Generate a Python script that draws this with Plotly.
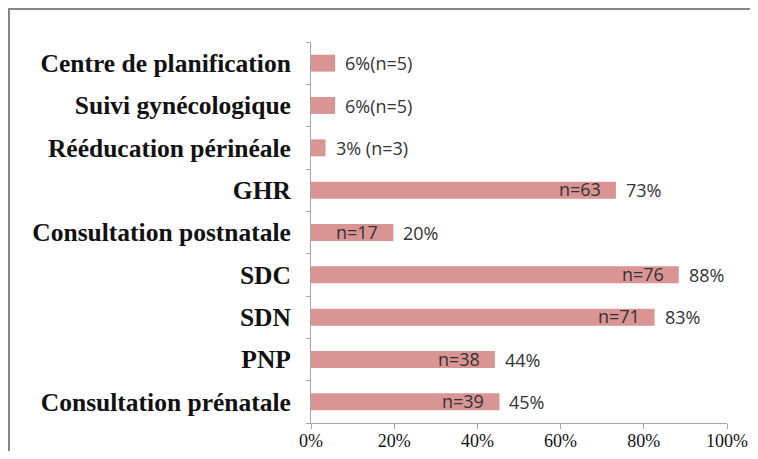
import plotly.graph_objects as go

categories = ["Consultation prénatale", "PNP", "SDN", "SDC", "Consultation postnatale",
              "GHR", "Rééducation périnéale", "Suivi gynécologique", "Centre de planification"]
percent = [45.3, 44.2, 82.6, 88.4, 19.8, 73.3, 3.5, 5.8, 5.8]
n_inside = ["n=39", "n=38", "n=71", "n=76", "n=17", "n=63", "", "", ""]
outside_labels = ["45%", "44%", "83%", "88%", "20%", "73%", "3% (n=3)", "6%(n=5)", "6%(n=5)"]
x_ticks = [0, 20, 40, 60, 80, 100]
x_ticklabels = ["0%", "20%", "40%", "60%", "80%", "100%"]

bar_color = "#D99594"
label_color = "#333333"
label_font = dict(family="Open Sans, Liberation Sans, sans-serif", size=18, color=label_color)

fig = go.Figure(go.Bar(
    y=categories, x=percent, orientation="h",
    marker=dict(color=bar_color, line=dict(width=0)),
    hoverinfo="skip",
))

annotations = []
for c, v, t in zip(categories, percent, outside_labels):
    annotations.append(dict(x=v, y=c, xref="x", yref="y", text=t, showarrow=False,
                            xanchor="left", xshift=8, font=label_font))
for c, v, t in zip(categories, percent, n_inside):
    if t:
        annotations.append(dict(x=v, y=c, xref="x", yref="y", text=t, showarrow=False,
                                xanchor="right", xshift=-13, yshift=1, font=label_font))

W, H = 742, 443
L, T, PW, PH = 303, 34, 416, 381

fig.update_layout(
    width=W, height=H,
    margin=dict(l=L, r=W - L - PW, t=T, b=H - T - PH, autoexpand=False),
    paper_bgcolor="white", plot_bgcolor="white",
    bargap=0.6,
    showlegend=False,
    annotations=annotations,
    xaxis=dict(range=[0, 100], tickvals=x_ticks, ticktext=x_ticklabels, automargin=False,
               showgrid=False, zeroline=False, showline=True, linecolor="#A6A6A6", linewidth=1,
               ticks="outside", ticklen=5, tickcolor="#A6A6A6", ticklabelstandoff=-4,
               tickfont=dict(family="Liberation Serif, serif", size=18, color="#111111")),
    yaxis=dict(showgrid=False, zeroline=False, showline=True, linecolor="#A6A6A6", linewidth=1,
               automargin=False,
               ticks="outside", ticklen=4, tickcolor="#A6A6A6", tickson="boundaries",
               tickfont=dict(family="Liberation Serif, serif", size=25.5, color="#111111", weight="bold"),
               ticklabelstandoff=14),
    shapes=[dict(type="rect", xref="paper", yref="paper",
                 x0=(1 - L) / PW, x1=(W + 20 - L) / PW, y0=-1, y1=(T + PH - 1) / PH,
                 line=dict(color="#878787", width=2), fillcolor="rgba(0,0,0,0)", layer="below")],
)

fig.write_html("out.html", config=dict(displayModeBar=False))
